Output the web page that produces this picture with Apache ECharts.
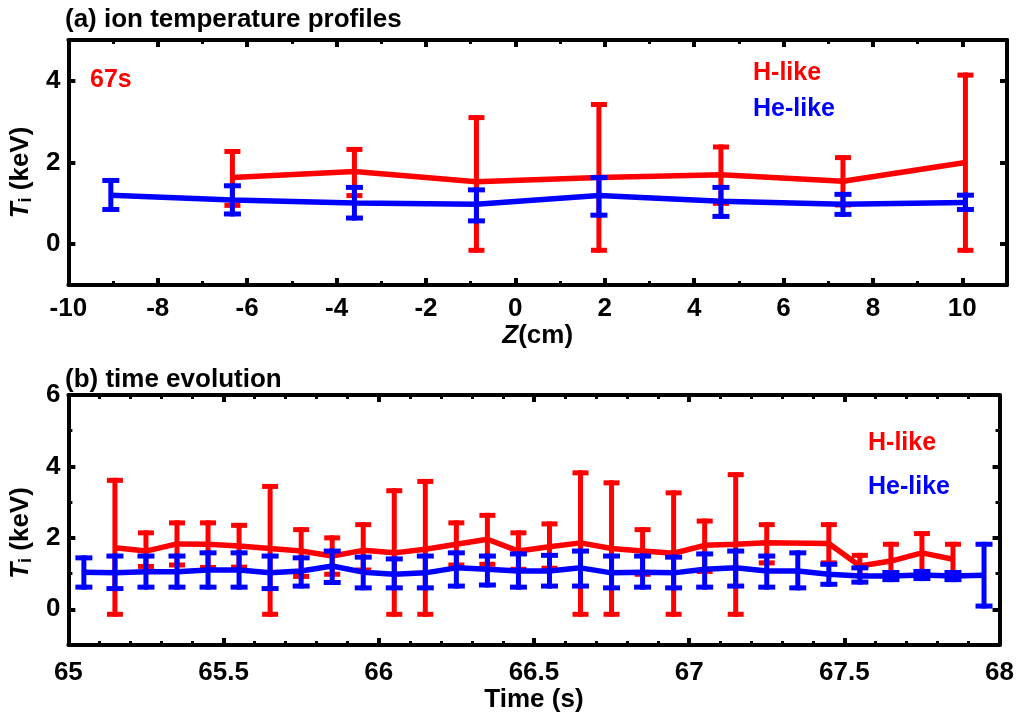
<!DOCTYPE html>
<html>
<head>
<meta charset="utf-8">
<script src="https://cdn.jsdelivr.net/npm/echarts@6/dist/echarts.min.js"></script>
<style>
html,body{margin:0;padding:0;background:#fff;}
#main{width:1017px;height:717px;}
</style>
</head>
<body>
<div id="main"></div>
<script>
// ---------- Panel (a): ion temperature profiles at 67 s ----------
const zPos      = [-9.05, -6.33, -3.6, -0.87, 1.87, 4.6, 7.33, 10.07];
const zHeLike   = [1.20, 1.08, 1.01, 0.98, 1.19, 1.05, 0.98, 1.02];
const zHeLo     = [0.85, 0.74, 0.64, 0.57, 0.71, 0.68, 0.73, 0.85];
const zHeHi     = [1.56, 1.43, 1.39, 1.33, 1.63, 1.39, 1.22, 1.20];
const zHLike    = [null, 1.63, 1.78, 1.53, 1.63, 1.70, 1.54, 2.00];
const zHLo      = [null, 0.95, 1.19, -0.15, -0.15, 1.00, 0.96, -0.15];
const zHHi      = [null, 2.27, 2.32, 3.10, 3.42, 2.38, 2.12, 4.14];

// ---------- Panel (b): time evolution ----------
const tPos = [65.05, 65.15, 65.25, 65.35, 65.45, 65.55, 65.65, 65.75, 65.85, 65.95,
              66.05, 66.15, 66.25, 66.35, 66.45, 66.55, 66.65, 66.75, 66.85, 66.95,
              67.05, 67.15, 67.25, 67.35, 67.45, 67.55, 67.65, 67.75, 67.85, 67.95];
const tHeLike = [1.04, 1.02, 1.05, 1.05, 1.10, 1.10, 1.02, 1.07, 1.21, 1.04,
                 0.98, 1.02, 1.16, 1.12, 1.07, 1.07, 1.16, 1.02, 1.04, 1.02,
                 1.12, 1.16, 1.07, 1.07, 0.98, 0.93, 0.93, 0.96, 0.93, 0.95];
const tHeLo   = [0.62, 0.58, 0.62, 0.62, 0.62, 0.62, 0.58, 0.65, 0.75, 0.60,
                 0.60, 0.60, 0.65, 0.68, 0.62, 0.65, 0.65, 0.60, 0.62, 0.60,
                 0.62, 0.65, 0.62, 0.60, 0.70, 0.76, 0.83, 0.86, 0.83, 0.09];
const tHeHi   = [1.44, 1.49, 1.49, 1.49, 1.58, 1.58, 1.49, 1.44, 1.63, 1.46,
                 1.41, 1.49, 1.58, 1.49, 1.55, 1.51, 1.63, 1.49, 1.49, 1.46,
                 1.55, 1.63, 1.49, 1.58, 1.26, 1.16, 1.03, 1.06, 1.03, 1.82];
const tHLike  = [null, 1.72, 1.63, 1.83, 1.82, 1.77, 1.70, 1.63, 1.49, 1.65,
                 1.58, 1.68, 1.82, 1.96, 1.63, 1.75, 1.86, 1.70, 1.63, 1.57,
                 1.79, 1.82, 1.86, null, 1.84, 1.21, 1.35, 1.58, 1.40, null];
const tHLo    = [null, -0.14, 1.20, 1.24, 1.17, 1.18, -0.14, 0.92, 0.98, 1.10,
                 -0.14, -0.14, 1.24, 1.26, 1.12, 1.15, -0.14, -0.14, 0.98, -0.14,
                 1.06, -0.14, 1.30, null, 1.30, 0.95, 1.00, 1.05, 1.00, null];
const tHHi    = [null, 3.61, 2.14, 2.42, 2.42, 2.35, 3.44, 2.23, 2.00, 2.37,
                 3.32, 3.58, 2.42, 2.63, 2.14, 2.39, 3.82, 3.54, 2.23, 3.26,
                 2.47, 3.77, 2.37, null, 2.37, 1.51, 1.82, 2.12, 1.82, null];

// tick labels
const yTicksA = [0, 2, 4];
const yTicksB = [0, 2, 4, 6];
const yMinorB = [1, 3, 5];

const RED = '#ff0000';
const BLUE = '#0000ff';
const FONT = "'Liberation Sans', Arial, sans-serif";

function pairs(xs, ys) {
  const out = [];
  xs.forEach((x, i) => { if (ys[i] !== null) out.push([x, ys[i]]); });
  return out;
}
function triples(xs, lo, hi) {
  const out = [];
  xs.forEach((x, i) => { if (lo[i] !== null) out.push([x, lo[i], hi[i]]); });
  return out;
}
function errRender(color, capW, lw) {
  return function (params, api) {
    const x = api.value(0), lo = api.value(1), hi = api.value(2);
    const a = api.coord([x, lo]), b = api.coord([x, hi]);
    const st = { stroke: color, lineWidth: lw, lineCap: 'butt' };
    return {
      type: 'group',
      children: [
        { type: 'line', shape: { x1: a[0], y1: a[1] + lw / 2, x2: b[0], y2: b[1] - lw / 2 }, style: st },
        { type: 'line', shape: { x1: a[0] - capW / 2, y1: a[1], x2: a[0] + capW / 2, y2: a[1] }, style: st },
        { type: 'line', shape: { x1: b[0] - capW / 2, y1: b[1], x2: b[0] + capW / 2, y2: b[1] }, style: st }
      ]
    };
  };
}

const axisLine = { show: true, onZero: false, lineStyle: { color: '#000', width: 4 } };
const tick = { show: true, inside: true, length: 7, lineStyle: { color: '#000', width: 4 } };
const tickC = (vals) => Object.assign({}, tick, { customValues: vals });
const minorC = (vals) => ({ show: true, inside: true, length: 4, customValues: vals, lineStyle: { color: '#000', width: 3 } });
const minor = (n) => ({ show: true, splitNumber: n, length: 4, lineStyle: { color: '#000', width: 3 } });
const labelStyle = { color: '#000', fontFamily: FONT, fontWeight: 'bold', fontSize: 26 };

const nameRich = {
  it: { fontFamily: FONT, fontWeight: 'bold', fontStyle: 'italic', fontSize: 26, color: '#000' },
  sub: { fontFamily: FONT, fontWeight: 'bold', fontSize: 18, color: '#000', padding: [10, 0, 0, 0] },
  n: { fontFamily: FONT, fontWeight: 'bold', fontSize: 26, color: '#000' }
};

const chart = echarts.init(document.getElementById('main'), null, { renderer: 'canvas' });
chart.setOption({
  animation: false,
  backgroundColor: '#fff',
  title: [
    { text: '(a) ion temperature profiles', left: 60, top: 2,
      textStyle: { fontFamily: FONT, fontWeight: 'bold', fontSize: 26, color: '#000' } },
    { text: '(b) time evolution', left: 60, top: 362,
      textStyle: { fontFamily: FONT, fontWeight: 'bold', fontSize: 26, color: '#000' } }
  ],
  grid: [
    { left: 63, top: 40, width: 944, height: 245 },
    { left: 63, top: 395, width: 937, height: 250 }
  ],
  xAxis: [
    { type: 'value', gridIndex: 0, position: 'bottom', min: -10, max: 11, interval: 2,
      axisLine, axisTick: tick, minorTick: minor(2), splitLine: { show: false },
      axisLabel: Object.assign({ margin: 11, formatter: v => (v === 11 ? '' : String(v)) }, labelStyle),
      name: '{it|Z}{n|(cm)}', nameLocation: 'middle', nameGap: 36,
      nameTextStyle: { rich: nameRich } },
    { type: 'value', gridIndex: 0, position: 'top', min: -10, max: 11, interval: 2,
      axisLine, axisTick: tick, minorTick: minor(2), splitLine: { show: false },
      axisLabel: { show: false } },
    { type: 'value', gridIndex: 1, position: 'bottom', min: 65, max: 68, interval: 0.5,
      axisLine, axisTick: tick, minorTick: minor(5), splitLine: { show: false },
      axisLabel: Object.assign({ margin: 15 }, labelStyle),
      name: 'Time (s)', nameLocation: 'middle', nameGap: 38,
      nameTextStyle: { fontFamily: FONT, fontWeight: 'bold', fontSize: 26, color: '#000' } },
    { type: 'value', gridIndex: 1, position: 'top', min: 65, max: 68, interval: 0.5,
      axisLine, axisTick: tick, minorTick: minor(5), splitLine: { show: false },
      axisLabel: { show: false } }
  ],
  yAxis: [
    // panel (a)
    { type: 'value', gridIndex: 0, position: 'left', min: -1, max: 5, interval: 2,
      axisLine, axisTick: tickC(yTicksA), splitLine: { show: false },
      axisLabel: Object.assign({ margin: 8, customValues: yTicksA }, labelStyle),
      name: '{it|T}{sub|i}{n| (keV)}', nameLocation: 'middle', nameGap: 24,
      nameTextStyle: { rich: nameRich, padding: [0, 20, 0, 0] } },
    { type: 'value', gridIndex: 0, position: 'right', min: -1, max: 5, interval: 2,
      axisLine, axisTick: tickC(yTicksA), splitLine: { show: false }, axisLabel: { show: false } },
    // panel (b)
    { type: 'value', gridIndex: 1, position: 'left', min: -1, max: 6, interval: 2,
      axisLine, axisTick: tickC(yTicksB), splitLine: { show: false },
      axisLabel: Object.assign({ margin: 8, customValues: yTicksB }, labelStyle),
      name: '{it|T}{sub|i}{n| (keV)}', nameLocation: 'middle', nameGap: 24,
      nameTextStyle: { rich: nameRich, padding: [0, 26, 0, 0] } },
    { type: 'value', gridIndex: 1, position: 'right', min: -1, max: 6, interval: 2,
      axisLine, axisTick: tickC(yTicksB), splitLine: { show: false }, axisLabel: { show: false } },
    { type: 'value', gridIndex: 1, position: 'left', offset: 0, min: -1, max: 6, interval: 2,
      axisLine: { show: false }, axisTick: minorC(yMinorB), splitLine: { show: false }, axisLabel: { show: false } },
    { type: 'value', gridIndex: 1, position: 'right', offset: 0, min: -1, max: 6, interval: 2,
      axisLine: { show: false }, axisTick: minorC(yMinorB), splitLine: { show: false }, axisLabel: { show: false } }
  ],
  graphic: [
    { type: 'text', left: 90, top: 68, style: { text: '67s', fill: RED, font: "bold 25px " + FONT } },
    { type: 'text', left: 753, top: 61, style: { text: 'H-like', fill: RED, font: "bold 25px " + FONT } },
    { type: 'text', left: 753, top: 97, style: { text: 'He-like', fill: BLUE, font: "bold 25px " + FONT } },
    { type: 'text', left: 868, top: 431, style: { text: 'H-like', fill: RED, font: "bold 25px " + FONT } },
    { type: 'text', left: 868, top: 475, style: { text: 'He-like', fill: BLUE, font: "bold 25px " + FONT } }
  ],
  series: [
    { name: 'H-like err a', type: 'custom', xAxisIndex: 0, yAxisIndex: 0,
      renderItem: errRender(RED, 16, 5), data: triples(zPos, zHLo, zHHi), z: 2 },
    { name: 'H-like a', type: 'line', xAxisIndex: 0, yAxisIndex: 0, data: pairs(zPos, zHLike),
      symbol: 'none', lineStyle: { color: RED, width: 5.5 }, z: 3 },
    { name: 'He-like err a', type: 'custom', xAxisIndex: 0, yAxisIndex: 0,
      renderItem: errRender(BLUE, 17, 5), data: triples(zPos, zHeLo, zHeHi), z: 4 },
    { name: 'He-like a', type: 'line', xAxisIndex: 0, yAxisIndex: 0, data: pairs(zPos, zHeLike),
      symbol: 'none', lineStyle: { color: BLUE, width: 5.5 }, z: 5 },

    { name: 'H-like err b', type: 'custom', xAxisIndex: 2, yAxisIndex: 2,
      renderItem: errRender(RED, 16, 5), data: triples(tPos, tHLo, tHHi), z: 2 },
    { name: 'H-like b', type: 'line', xAxisIndex: 2, yAxisIndex: 2, data: pairs(tPos, tHLike),
      symbol: 'none', lineStyle: { color: RED, width: 5.5 }, z: 3 },
    { name: 'He-like err b', type: 'custom', xAxisIndex: 2, yAxisIndex: 2,
      renderItem: errRender(BLUE, 17, 5), data: triples(tPos, tHeLo, tHeHi), z: 4 },
    { name: 'He-like b', type: 'line', xAxisIndex: 2, yAxisIndex: 2, data: pairs(tPos, tHeLike),
      symbol: 'none', lineStyle: { color: BLUE, width: 5.5 }, z: 5 }
  ]
});
</script>
</body>
</html>
